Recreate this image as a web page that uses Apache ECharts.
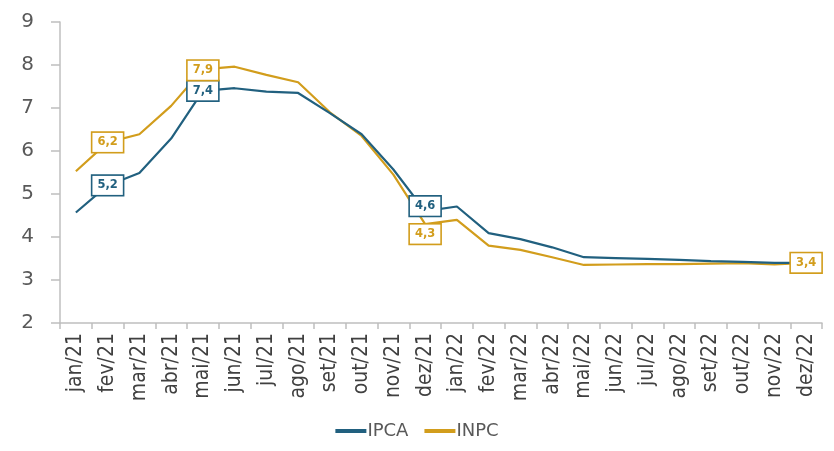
<!DOCTYPE html>
<html>
<head>
<meta charset="utf-8">
<script src="https://cdn.jsdelivr.net/npm/echarts@6/dist/echarts.min.js"></script>
<style>
  html, body { margin: 0; padding: 0; background: #fff; }
  #main { width: 834px; height: 451px; }
</style>
</head>
<body>
<div id="main"></div>
<script>
var months = ['jan/21', 'fev/21', 'mar/21', 'abr/21', 'mai/21', 'jun/21', 'jul/21', 'ago/21', 'set/21', 'out/21', 'nov/21', 'dez/21',
    'jan/22', 'fev/22', 'mar/22', 'abr/22', 'mai/22', 'jun/22', 'jul/22', 'ago/22', 'set/22', 'out/22', 'nov/22', 'dez/22'];
var ipca = [4.57, 5.2, 5.49, 6.29, 7.4, 7.46, 7.38, 7.35, 6.88, 6.39, 5.57, 4.6,
    4.71, 4.09, 3.95, 3.76, 3.53, 3.51, 3.49, 3.47, 3.44, 3.42, 3.4, 3.4];
var inpc = [5.53, 6.2, 6.39, 7.05, 7.9, 7.96, 7.77, 7.6, 6.9, 6.35, 5.45, 4.3,
    4.4, 3.8, 3.7, 3.53, 3.35, 3.36, 3.37, 3.37, 3.38, 3.39, 3.36, 3.4];
// pontos com rótulo: índice -> deslocamento do rótulo
var ipcaLabels = {1: [0, 0], 4: [0, 0], 11: [0, -5]};
var inpcLabels = {1: [0, 0], 4: [0, 1], 11: [0, 10], 23: [0, 0]};

var azul = '#21607f';
var ouro = '#d29d1c';
var fonteEixo = '"DejaVu Sans Condensed", "Noto Sans", sans-serif';

// série só de rótulos (fica por cima das linhas)
function rotulos(nome, vals, labels, cor) {
    var pts = [];
    vals.forEach(function (v, i) {
        if (i in labels) {
            pts.push({
                value: [i, v],
                label: { offset: labels[i] }
            });
        }
    });
    return {
        name: nome,
        type: 'scatter',
        data: pts,
        symbolSize: 0,
        z: 10,
        silent: true,
        itemStyle: { opacity: 1, color: cor },
        label: {
            show: true,
            position: 'inside',
            formatter: function (p) { return p.value[1].toFixed(1).replace('.', ','); },
            color: cor,
            opacity: 1,
            fontFamily: 'DejaVu Sans',
            fontWeight: 'bold',
            fontSize: 11.5,
            backgroundColor: '#fff',
            borderColor: cor,
            borderWidth: 1.6,
            padding: [4, 5, 3, 5]
        }
    };
}

var myChart = echarts.init(document.getElementById('main'));

var option = {
    animation: false,
    grid: { left: 60, right: 12, top: 22, bottom: 128 },
    legend: {
        top: 417,
        left: 'center',
        itemWidth: 31,
        itemHeight: 4,
        itemGap: 16,
        icon: 'rect',
        textStyle: { color: '#595959', fontSize: 18, fontFamily: 'DejaVu Sans', padding: [0, 0, 0, -4] },
        data: ['IPCA', 'INPC']
    },
    xAxis: {
        type: 'category',
        data: months,
        boundaryGap: true,
        axisLine: { lineStyle: { color: '#bfbfbf', width: 1.5 } },
        axisTick: { show: true, length: 6, lineStyle: { color: '#bfbfbf', width: 1.5 } },
        axisLabel: {
            rotate: 90,
            interval: 0,
            color: '#404040',
            fontSize: 21,
            fontFamily: fonteEixo,
            margin: 10
        }
    },
    yAxis: {
        type: 'value',
        min: 2,
        max: 9,
        interval: 1,
        splitLine: { show: false },
        axisLine: { show: true, lineStyle: { color: '#bfbfbf', width: 1.5 } },
        axisTick: { show: true, length: 9, lineStyle: { color: '#bfbfbf', width: 1.5 } },
        axisLabel: {
            color: '#595959',
            fontSize: 20,
            fontFamily: 'DejaVu Sans',
            margin: 26
        }
    },
    series: [
        {
            name: 'IPCA',
            type: 'line',
            data: ipca,
            symbol: 'none',
            lineStyle: { color: azul, width: 2.2 },
            itemStyle: { color: azul },
            z: 3
        },
        {
            name: 'INPC',
            type: 'line',
            data: inpc,
            symbol: 'none',
            lineStyle: { color: ouro, width: 2.2 },
            itemStyle: { color: ouro },
            z: 2
        },
        rotulos('IPCA rótulos', ipca, ipcaLabels, azul),
        rotulos('INPC rótulos', inpc, inpcLabels, ouro)
    ]
};

myChart.setOption(option);
</script>
</body>
</html>
